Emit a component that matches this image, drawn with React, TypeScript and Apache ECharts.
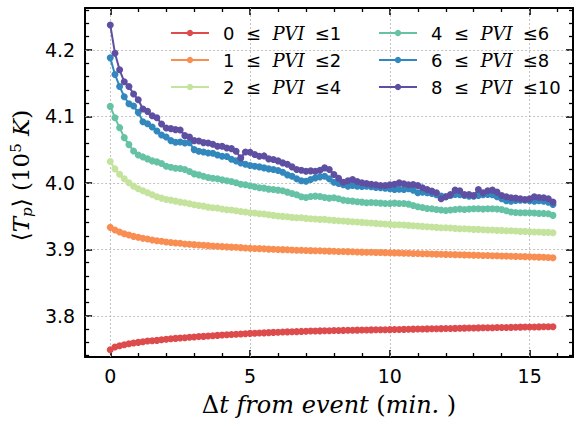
import React, { useEffect, useRef } from 'react';
import * as echarts from 'echarts';

// Sampling step of the superposed-epoch curves (minutes)
const TIME_STEP_MIN = 1 / 6;

const PVI_BINS: [number, number][] = [
  [0, 1], [1, 2], [2, 4], [4, 6], [6, 8], [8, 10],
];
const SERIES_NAMES = ['pvi0_1', 'pvi1_2', 'pvi2_4', 'pvi4_6', 'pvi6_8', 'pvi8_10'];
const COLORS = ['#dd4b4c', '#f98e52', '#c4e39c', '#65c2a5', '#3288bd', '#5e4fa2'];

// <Tp> (1e5 K) per PVI bin
const TP_PVI_0_1 = [
  3.749, 3.753, 3.755, 3.7565, 3.758, 3.759,
  3.760, 3.761, 3.762, 3.7625, 3.763, 3.764,
  3.7648, 3.7655, 3.766, 3.7667, 3.767, 3.7678,
  3.768, 3.7687, 3.769, 3.7695, 3.770, 3.7705,
  3.771, 3.7714, 3.7718, 3.7722, 3.7726, 3.773,
  3.7735, 3.7738, 3.774, 3.7743, 3.7747, 3.775,
  3.7752, 3.7755, 3.7758, 3.776, 3.7762, 3.7765,
  3.7767, 3.777, 3.7771, 3.7773, 3.7775, 3.7776,
  3.7778, 3.7779, 3.778, 3.7782, 3.7783, 3.7784,
  3.7785, 3.7786, 3.7788, 3.7789, 3.779, 3.7791,
  3.7792, 3.7793, 3.7795, 3.7796, 3.7798, 3.7799,
  3.780, 3.7801, 3.7803, 3.7804, 3.7806, 3.7807,
  3.7808, 3.781, 3.7811, 3.7813, 3.7814, 3.7815,
  3.7817, 3.7818, 3.7819, 3.782, 3.7821, 3.7823,
  3.7824, 3.7825, 3.7826, 3.7828, 3.7829, 3.783,
  3.7831, 3.7832, 3.7833, 3.7834, 3.7835, 3.7836,
];
const TP_PVI_1_2 = [
  3.933, 3.929, 3.926, 3.9235, 3.9215, 3.9195,
  3.918, 3.9165, 3.9155, 3.914, 3.913, 3.912,
  3.911, 3.9103, 3.9095, 3.909, 3.908, 3.9075,
  3.907, 3.9065, 3.906, 3.9055, 3.905, 3.9045,
  3.904, 3.9037, 3.9033, 3.903, 3.9025, 3.902,
  3.9015, 3.9012, 3.901, 3.9007, 3.9003, 3.900,
  3.8997, 3.8995, 3.8993, 3.899, 3.8987, 3.8985,
  3.8982, 3.898, 3.8978, 3.8977, 3.8975, 3.8973,
  3.897, 3.8968, 3.8967, 3.8965, 3.8963, 3.896,
  3.8958, 3.8957, 3.8955, 3.8953, 3.8951, 3.895,
  3.8948, 3.8946, 3.8944, 3.8942, 3.894, 3.8938,
  3.8936, 3.8934, 3.8932, 3.893, 3.8928, 3.8926,
  3.8924, 3.8922, 3.892, 3.8918, 3.8916, 3.8914,
  3.8912, 3.891, 3.8908, 3.8906, 3.8904, 3.8902,
  3.890, 3.8898, 3.8896, 3.8894, 3.8892, 3.889,
  3.8887, 3.8885, 3.8882, 3.888, 3.8877, 3.8874,
];
const TP_PVI_2_4 = [
  4.032, 4.021, 4.013, 4.006, 4.000, 3.995,
  3.991, 3.988, 3.985, 3.982, 3.979, 3.977,
  3.975, 3.974, 3.9725, 3.971, 3.970, 3.9685,
  3.967, 3.966, 3.965, 3.9635, 3.9625, 3.962,
  3.9605, 3.9595, 3.959, 3.958, 3.957, 3.956,
  3.955, 3.9545, 3.9535, 3.953, 3.952, 3.951,
  3.950, 3.9495, 3.949, 3.948, 3.9475, 3.9475,
  3.9465, 3.946, 3.9455, 3.945, 3.945, 3.944,
  3.9435, 3.943, 3.9425, 3.942, 3.9415, 3.941,
  3.9405, 3.940, 3.9395, 3.939, 3.9385, 3.938,
  3.9375, 3.937, 3.937, 3.9365, 3.936, 3.9355,
  3.935, 3.9345, 3.934, 3.9335, 3.933, 3.9325,
  3.9325, 3.932, 3.9315, 3.931, 3.931, 3.9305,
  3.930, 3.930, 3.9295, 3.929, 3.929, 3.9285,
  3.9285, 3.928, 3.928, 3.9275, 3.927, 3.927,
  3.9265, 3.926, 3.926, 3.9255, 3.9255, 3.925,
];
const TP_PVI_4_6 = [
  4.115, 4.098, 4.083, 4.068, 4.0575, 4.048,
  4.042, 4.039, 4.036, 4.033, 4.0315, 4.029,
  4.025, 4.0235, 4.022, 4.0215, 4.020, 4.017,
  4.0135, 4.012, 4.010, 4.008, 4.007, 4.006,
  4.0045, 4.003, 4.002, 4.000, 3.998, 3.997,
  3.9955, 3.994, 3.9925, 3.992, 3.9905, 3.990,
  3.989, 3.988, 3.986, 3.984, 3.982, 3.979,
  3.978, 3.9795, 3.980, 3.9795, 3.978, 3.977,
  3.9775, 3.976, 3.974, 3.973, 3.9725, 3.9715,
  3.971, 3.970, 3.9705, 3.970, 3.9695, 3.969,
  3.969, 3.9695, 3.969, 3.969, 3.968, 3.966,
  3.964, 3.963, 3.9615, 3.961, 3.960, 3.959,
  3.9585, 3.959, 3.960, 3.9605, 3.960, 3.9605,
  3.961, 3.961, 3.9605, 3.961, 3.961, 3.9605,
  3.960, 3.958, 3.956, 3.9555, 3.955, 3.955,
  3.955, 3.9545, 3.954, 3.954, 3.9535, 3.951,
];
const TP_PVI_6_8 = [
  4.188, 4.163, 4.145, 4.1295, 4.119, 4.1155,
  4.106, 4.092, 4.089, 4.084, 4.078, 4.072,
  4.069, 4.0635, 4.061, 4.0615, 4.060, 4.0605,
  4.050, 4.0475, 4.0465, 4.045, 4.0445, 4.042,
  4.040, 4.0395, 4.0355, 4.033, 4.030, 4.028,
  4.026, 4.025, 4.024, 4.0225, 4.021, 4.020,
  4.0185, 4.016, 4.012, 4.010, 4.006, 4.003,
  4.0025, 4.005, 4.0075, 4.009, 4.010, 4.006,
  4.001, 3.999, 3.997, 3.995, 3.996, 3.995,
  3.9945, 3.995, 3.994, 3.993, 3.9925, 3.992,
  3.991, 3.990, 3.9905, 3.990, 3.991, 3.989,
  3.985, 3.986, 3.985, 3.984, 3.982, 3.980,
  3.979, 3.981, 3.9825, 3.982, 3.981, 3.980,
  3.980, 3.981, 3.982, 3.9825, 3.982, 3.979,
  3.976, 3.973, 3.9725, 3.9735, 3.974, 3.974,
  3.973, 3.9725, 3.973, 3.9725, 3.971, 3.9675,
];
const TP_PVI_8_10 = [
  4.2375, 4.195, 4.170, 4.152, 4.145, 4.1335,
  4.125, 4.111, 4.1075, 4.101, 4.098, 4.0885,
  4.0825, 4.0815, 4.080, 4.0795, 4.071, 4.069,
  4.0635, 4.063, 4.0605, 4.060, 4.058, 4.055,
  4.055, 4.0525, 4.0515, 4.0475, 4.0375, 4.0465,
  4.046, 4.0425, 4.040, 4.0405, 4.036, 4.035,
  4.033, 4.030, 4.028, 4.024, 4.020, 4.019,
  4.0175, 4.018, 4.0175, 4.019, 4.0225, 4.020,
  4.0125, 4.007, 4.001, 4.003, 4.005, 4.002,
  4.000, 3.999, 3.998, 3.997, 3.996, 3.996,
  3.997, 3.998, 4.000, 3.9985, 3.997, 3.9975,
  3.996, 3.9925, 3.990, 3.9875, 3.985, 3.976,
  3.979, 3.9825, 3.989, 3.988, 3.9825, 3.9825,
  3.981, 3.990, 3.985, 3.988, 3.989, 3.986,
  3.981, 3.979, 3.9775, 3.977, 3.976, 3.975,
  3.976, 3.979, 3.978, 3.9775, 3.976, 3.971,
];
const SERIES_VALUES = [TP_PVI_0_1, TP_PVI_1_2, TP_PVI_2_4, TP_PVI_4_6, TP_PVI_6_8, TP_PVI_8_10];

const X_MAJOR = [0, 5, 10, 15];
const X_MINOR = [1, 2, 3, 4, 6, 7, 8, 9, 11, 12, 13, 14, 16];
const Y_MAJOR = [3.8, 3.9, 4.0, 4.1, 4.2];
const Y_MINOR = [
  3.74, 3.76, 3.78, 3.82, 3.84, 3.86, 3.88, 3.92, 3.94, 3.96, 3.98,
  4.02, 4.04, 4.06, 4.08, 4.12, 4.14, 4.16, 4.18, 4.22, 4.24, 4.26,
];
const X_MIN = -0.9;
const X_MAX = 16.55;
const Y_MIN = 3.738;
const Y_MAX = 4.263;

const SANS = 'DejaVu Sans';
const SERIF = 'DejaVu Serif';

export default function App() {
  const ref = useRef<HTMLDivElement>(null);

  useEffect(() => {
    if (!ref.current) return;
    const chart = echarts.init(ref.current, undefined, { renderer: 'svg' });

    const frameLine = { show: true, onZero: false, lineStyle: { color: '#000', width: 2 } };
    const majorTick = (show: boolean, values: number[]) => ({
      show, inside: true, length: 7, customValues: values,
      lineStyle: { color: '#000', width: 1.6 },
    });
    const minorTickAxis = (pos: string, values: number[], isX: boolean) => ({
      type: 'value', position: pos,
      min: isX ? X_MIN : Y_MIN, max: isX ? X_MAX : Y_MAX,
      axisLine: { show: false, onZero: false },
      axisLabel: { show: false },
      splitLine: { show: false },
      axisTick: { show: true, inside: true, length: 4, customValues: values, lineStyle: { color: '#000', width: 1.3 } },
    });

    const xAxes: any[] = [
      {
        type: 'value', position: 'bottom', min: X_MIN, max: X_MAX,
        axisLine: frameLine,
        axisTick: majorTick(true, X_MAJOR),
        axisLabel: {
          customValues: X_MAJOR, margin: 9, color: '#000', fontFamily: SANS, fontSize: 19,
          formatter: (v: number) => String(v),
        },
        splitLine: { show: false },
        name: '{r|\u0394}{i|t from event }{r|(}{i|min.}{r| )}',
        nameLocation: 'middle', nameGap: 36,
        nameTextStyle: {
          rich: {
            r: { fontFamily: SERIF, fontSize: 24, color: '#000' },
            i: { fontFamily: SERIF, fontStyle: 'italic', fontSize: 24, color: '#000' },
          },
        },
      },
      {
        type: 'value', position: 'top', min: X_MIN, max: X_MAX,
        axisLine: frameLine, axisTick: majorTick(true, X_MAJOR),
        axisLabel: { show: false }, splitLine: { show: false },
      },
      minorTickAxis('bottom', X_MINOR, true),
      minorTickAxis('top', X_MINOR, true),
    ];
    const yAxes: any[] = [
      {
        type: 'value', position: 'left', min: Y_MIN, max: Y_MAX,
        axisLine: frameLine,
        axisTick: majorTick(true, Y_MAJOR),
        axisLabel: {
          customValues: Y_MAJOR, margin: 10, color: '#000', fontFamily: SANS, fontSize: 19,
          formatter: (v: number) => v.toFixed(1),
        },
        splitLine: { show: false },
        name: '{r|\u27E8}{i|T}{sub|p}{r|\u27E9 (10}{sup|5}{r| }{i|K}{r|)}',
        nameLocation: 'middle', nameGap: 49, nameRotate: 90,
        nameTextStyle: {
          padding: [0, 0, 0, 14],
          rich: {
            r: { fontFamily: SERIF, fontSize: 23, color: '#000' },
            i: { fontFamily: SERIF, fontStyle: 'italic', fontSize: 23, color: '#000' },
            sub: { fontFamily: SERIF, fontStyle: 'italic', fontSize: 15, color: '#000', padding: [11, 0, 0, 0] },
            sup: { fontFamily: SERIF, fontSize: 15, color: '#000', padding: [0, 0, 11, 0] },
          },
        },
      },
      {
        type: 'value', position: 'right', min: Y_MIN, max: Y_MAX,
        axisLine: frameLine, axisTick: majorTick(true, Y_MAJOR),
        axisLabel: { show: false }, splitLine: { show: false },
      },
      minorTickAxis('left', Y_MINOR, false),
      minorTickAxis('right', Y_MINOR, false),
    ];

    const series: any[] = SERIES_VALUES.map((vals, s) => ({
      type: 'line',
      name: SERIES_NAMES[s],
      xAxisIndex: 0,
      yAxisIndex: 0,
      data: vals.map((v, i) => [i * TIME_STEP_MIN, v]),
      symbol: 'circle',
      symbolSize: 7,
      showSymbol: true,
      color: COLORS[s],
      lineStyle: { width: 2, color: COLORS[s] },
      itemStyle: { color: COLORS[s] },
      emphasis: { disabled: true },
      ...(s === 0
        ? {
            markLine: {
              silent: true,
              z: 1,
              symbol: ['none', 'none'],
              label: { show: false },
              lineStyle: { color: '#b3b3b3', width: 0.8, type: [2, 2] },
              emphasis: { disabled: true },
              data: [
                ...X_MAJOR.map((v) => ({ xAxis: v })),
                ...Y_MAJOR.map((v) => ({ yAxis: v })),
              ],
            },
          }
        : {}),
    }));

    const legendRich = {
      n: { fontFamily: SANS, fontSize: 18, color: '#000', lineHeight: 20, padding: [0, 0, 0, 10] },
      f: { fontFamily: SANS, fontSize: 18, color: '#000', lineHeight: 20, padding: [0, 0, 0, 9] },
      i: { fontFamily: SERIF, fontStyle: 'italic', fontSize: 18, color: '#000', lineHeight: 20 },
    };
    const legendFormatter = (name: string) => {
      const k = SERIES_NAMES.indexOf(name);
      const [lo, hi] = PVI_BINS[k];
      return `{f|${lo}  \u2264  }{i|PVI}{n|\u2264${hi}}`;
    };
    const legendBase = {
      orient: 'vertical',
      top: 24,
      padding: 0,
      itemWidth: 38,
      itemHeight: 8,
      itemGap: 9,
      formatter: legendFormatter,
      textStyle: { rich: legendRich },
      selectedMode: false,
    };

    chart.setOption({
      animation: false,
      backgroundColor: '#fff',
      grid: { left: 85, right: 3, top: 8, bottom: 70, containLabel: false },
      xAxis: xAxes,
      yAxis: yAxes,
      legend: [
        { ...legendBase, left: 170, data: SERIES_NAMES.slice(0, 3) },
        { ...legendBase, left: 378, data: SERIES_NAMES.slice(3, 6) },
      ],
      series,
    });

    return () => chart.dispose();
  }, []);

  return (
    <div
      ref={ref}
      style={{ position: 'fixed', left: 0, top: 0, width: 576, height: 427, background: '#fff' }}
    />
  );
}
